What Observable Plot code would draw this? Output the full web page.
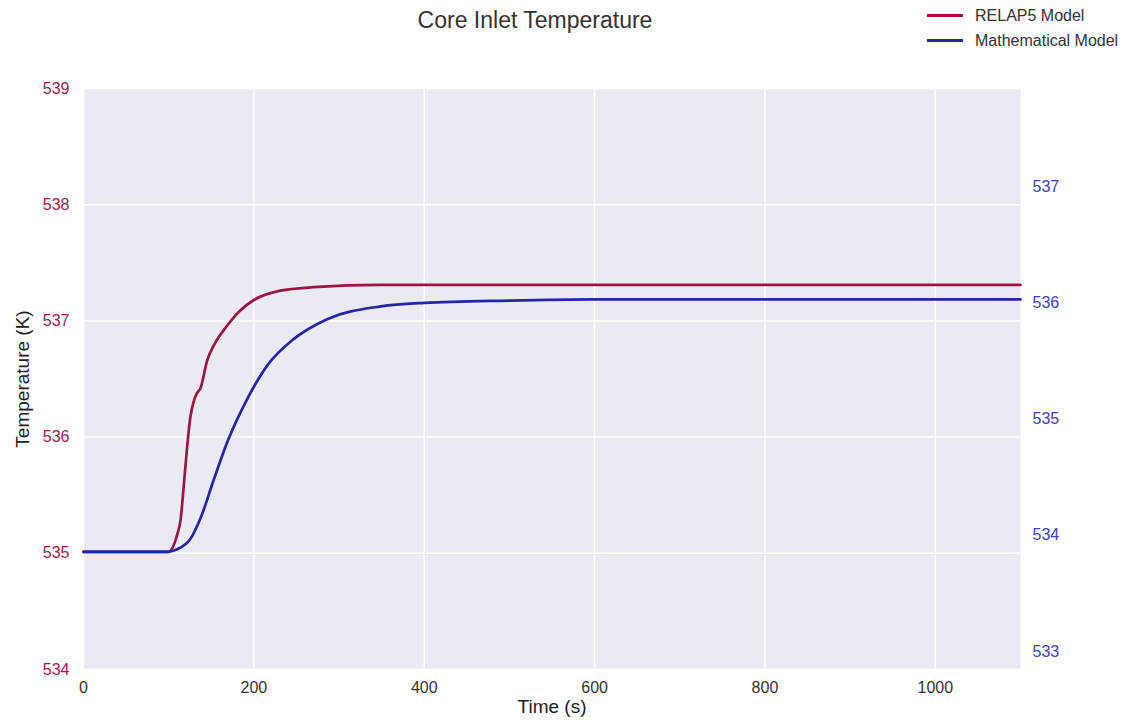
<!DOCTYPE html>
<html><head><meta charset="utf-8">
<script src="https://cdn.jsdelivr.net/npm/d3@7"></script>
<script src="https://cdn.jsdelivr.net/npm/@observablehq/plot@0.6"></script>
<style>
body{margin:0;background:#fff;font-family:"Liberation Sans",Arial,sans-serif;}
#wrap{position:relative;width:1131px;height:727px;}
#title{position:absolute;left:0;width:1070px;top:7px;text-align:center;font-size:23px;color:#333;}
.leg{position:absolute;left:927px;font-size:16px;color:#333;white-space:nowrap;}
.leg span{display:inline-block;width:36px;height:3px;vertical-align:middle;margin-right:12px;position:relative;top:-1px;}
</style></head>
<body>
<div id="wrap">
<div id="title">Core Inlet Temperature</div>
<div class="leg" style="top:7px"><span style="background:#9b1445"></span>RELAP5 Model</div>
<div class="leg" style="top:32px"><span style="background:#2525a8"></span>Mathematical Model</div>
<div id="chart"></div>
</div>
<script>
// RELAP5 model (left axis, K)
const relapTime = [0, 99, 110, 114, 117.7, 121.7, 125.6, 129.5, 133.4, 137.3, 145.2, 153, 168.7, 184, 200, 231, 270, 349, 500, 700, 900, 1100];
const relapTemp = [535.01, 535.01, 535.16, 535.29, 535.58, 535.92, 536.18, 536.31, 536.38, 536.42, 536.66, 536.79, 536.96, 537.09, 537.18, 537.26, 537.29, 537.31, 537.31, 537.31, 537.31, 537.31];
// Mathematical model (right axis, K)
const mathTime = [0, 100, 110, 125.6, 137, 153, 168.7, 192, 215.6, 247, 286, 349, 400, 500, 600, 800, 1000, 1100];
const mathTemp = [533.86, 533.86, 533.88, 533.97, 534.14, 534.48, 534.80, 535.17, 535.46, 535.69, 535.86, 535.97, 536.00, 536.02, 536.03, 536.03, 536.03, 536.03];
const xTicks = [0, 200, 400, 600, 800, 1000];
const leftTicks = [534, 535, 536, 537, 538, 539];
const rightTicks = [533, 534, 535, 536, 537];
const rightOffset = 1.155; // right-axis value + offset = left-axis position

const relap = relapTime.map((t, i) => ({t, v: relapTemp[i]}));
const math = mathTime.map((t, i) => ({t, v: mathTemp[i] + rightOffset}));

const chart = Plot.plot({
  width: 1131, height: 727,
  marginTop: 88, marginLeft: 83, marginRight: 111, marginBottom: 58,
  style: {fontFamily: '"Liberation Sans", Arial, sans-serif', fontSize: "16px", background: "transparent"},
  x: {domain: [0, 1100]},
  y: {domain: [534, 539]},
  marks: [
    Plot.frame({fill: "#EAEAF2", stroke: null}),
    Plot.gridX(xTicks, {stroke: "white", strokeOpacity: 1, strokeWidth: 1.5}),
    Plot.gridY(leftTicks, {stroke: "white", strokeOpacity: 1, strokeWidth: 1.5}),
    Plot.line(relap, {x: "t", y: "v", stroke: "#9b1445", strokeWidth: 2.7, curve: "monotone-x"}),
    Plot.line(math, {x: "t", y: "v", stroke: "#2525a8", strokeWidth: 2.7, curve: "monotone-x"}),
    Plot.axisX({ticks: xTicks, tickFormat: d3.format("d"), tickSize: 0, tickPadding: 12, color: "#333", label: null}),
    Plot.axisY({anchor: "left", ticks: leftTicks, tickFormat: d3.format("d"), tickSize: 0, tickPadding: 14, color: "#a01a4d", label: null}),
    Plot.axisY({anchor: "right", ticks: rightTicks.map(v => v + rightOffset), tickFormat: v => String(Math.round(v - rightOffset)), tickSize: 0, tickPadding: 12, color: "#4040c0", label: null}),
    Plot.text(["Temperature (K)"], {frameAnchor: "left", textAnchor: "middle", dx: -61, rotate: -90, fontSize: 19, fill: "#222"}),
    Plot.text(["Time (s)"], {frameAnchor: "bottom", dy: 43, fontSize: 19, fill: "#222"})
  ]
});
document.getElementById("chart").appendChild(chart);
</script>
</body></html>
